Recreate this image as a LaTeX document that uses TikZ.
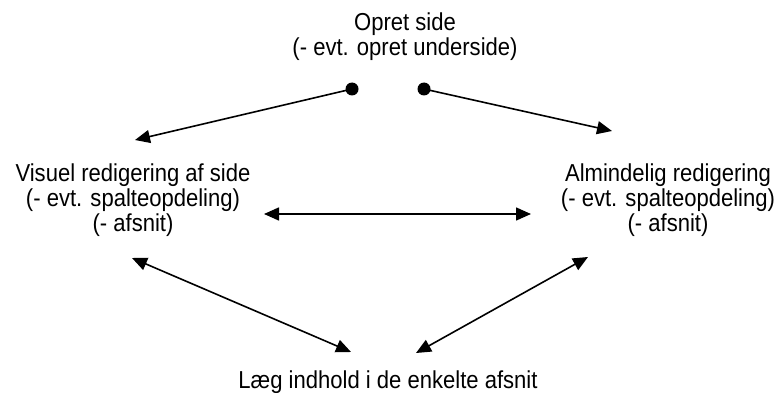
\documentclass[tikz,border=0pt]{standalone}
\usepackage{fontspec}
\setmainfont{Liberation Sans}[FakeStretch=0.9]
\usetikzlibrary{arrows.meta}
\begin{document}
\begin{tikzpicture}[x=1pt,y=-1pt,
  lbl/.style={align=center,inner sep=0pt,anchor=base,font=\fontsize{24.5}{25}\selectfont},
  dot/.style={circle,fill=black,inner sep=0pt,minimum size=13pt},
  arr/.style={line width=1.6pt,-{Triangle[length=15pt,width=13pt]}},
  darr/.style={line width=1.6pt,{Triangle[length=15pt,width=13pt]}-{Triangle[length=15pt,width=13pt]}}]
\useasboundingbox (0,0) rectangle (784,393);
\node[lbl] (top) at (405,56) {Opret side\\(- evt. opret underside)};
\node[lbl] (left) at (133,231) {Visuel redigering af side\\(- evt. spalteopdeling)\\(- afsnit)};
\node[lbl] (right) at (668,231) {Almindelig redigering\\(- evt. spalteopdeling)\\(- afsnit)};
\node[lbl] (bot) at (388,388) {Læg indhold i de enkelte afsnit};
\node[dot] (d1) at (352,89) {};
\node[dot] (d2) at (424,89) {};
\coordinate (l1) at (135,140);
\coordinate (r1) at (612,131);
\coordinate (hl) at (264,214);
\coordinate (hr) at (531,214);
\coordinate (lt) at (132,258);
\coordinate (lb) at (351,352);
\coordinate (rb) at (416,353);
\coordinate (rt) at (588,257);
\draw[arr] (d1.center) -- (l1);
\draw[arr] (d2.center) -- (r1);
\draw[darr] (hl) -- (hr);
\draw[darr] (lt) -- (lb);
\draw[darr] (rb) -- (rt);
\end{tikzpicture}
\end{document}
